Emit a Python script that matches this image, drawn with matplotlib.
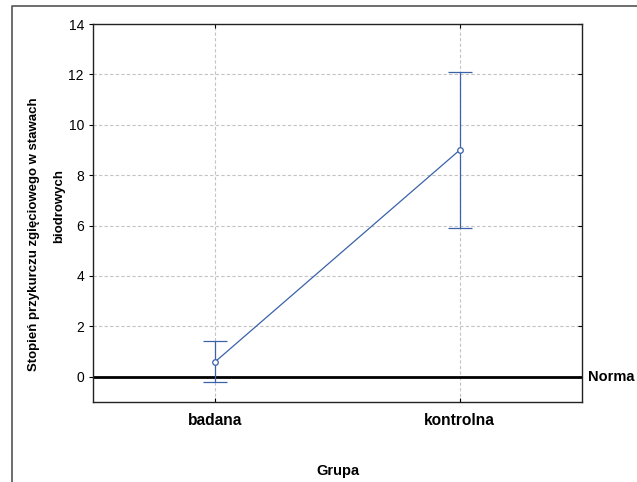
import matplotlib.pyplot as plt
import matplotlib.transforms as mtransforms
from matplotlib.lines import Line2D

plt.rcParams['font.family'] = ['Liberation Sans', 'DejaVu Sans']

# data
groups = ['badana', 'kontrolna']
means = [0.6, 9.0]
errs = [0.82, 3.08]
norma = 0

fig = plt.figure(figsize=(6.37, 4.82), dpi=100)

# outer frame (cut at right and bottom)
fig.add_artist(Line2D([0.0195, 0.0195, 1.0], [0.0, 0.9876, 0.9876],
                      transform=fig.transFigure, color='#555555', lw=1.2))

ax = fig.add_axes([0.146, 0.166, 0.7677, 0.7842])
x = list(range(1, len(groups) + 1))

ax.errorbar(x, means, yerr=errs, color='#3a62a8', lw=0.9, elinewidth=0.9,
            capsize=8.5, capthick=0.9, marker='o', markersize=4,
            markerfacecolor='white', markeredgecolor='#3a62a8', markeredgewidth=0.9,
            zorder=3)

ax.axhline(norma, color='black', lw=2, zorder=2)
trans = mtransforms.blended_transform_factory(ax.transAxes, ax.transData)
ax.text(1.012, norma, 'Norma', transform=trans, ha='left', va='center',
        fontsize=10.5, fontweight='bold', clip_on=False)

ax.set_xlim(0.5, 2.5)
ax.set_ylim(-1, 14)
ax.set_xticks(x)
ax.set_xticklabels(groups, fontsize=11.2, fontweight='bold')
ax.set_yticks(range(0, 15, 2))
ax.tick_params(axis='y', which='both', left=True, right=True, labelsize=10)
ax.tick_params(axis='y', direction='out', length=3, width=0.8)
ax.tick_params(axis='x', direction='in', top=True, bottom=True, length=3, width=0.8, pad=8)
for t in ax.yaxis.get_major_ticks():
    t.tick2line.set_marker(0)  # inward on right side
    t.tick2line.set_markersize(3)

ax.grid(True, color='#c4c4c4', linestyle=(0, (3, 2)), lw=0.8)
ax.set_axisbelow(True)
for s in ax.spines.values():
    s.set_linewidth(1.0)
    s.set_color('#222222')

# y label: two lines, placed separately as in the original
fig.text(34 / 637, 1 - 234 / 482, 'Stopień przykurczu zgięciowego w stawach',
         rotation=90, ha='center', va='center', fontsize=9.5, fontweight='bold')
fig.text(59 / 637, 1 - 206 / 482, 'biodrowych',
         rotation=90, ha='center', va='center', fontsize=9.5, fontweight='bold')
ax.set_xlabel('Grupa', fontsize=10.5, fontweight='bold', labelpad=26)

fig.savefig('out.png', dpi=100)
